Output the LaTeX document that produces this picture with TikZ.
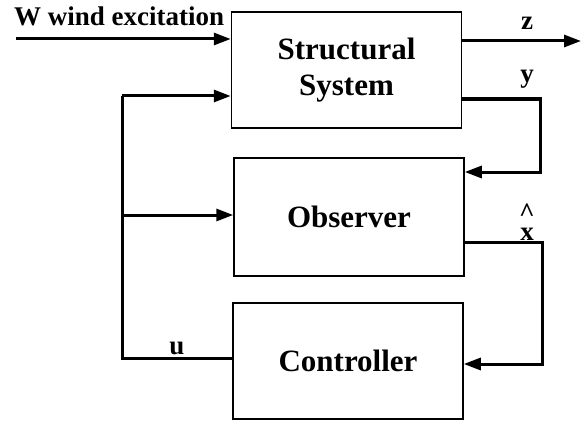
\documentclass[tikz,border=0pt]{standalone}
\usepackage{fontspec}
\setmainfont{Liberation Serif}
\usetikzlibrary{arrows.meta}

\tikzset{
    block/.style={draw, line width=1.5pt, minimum width=230pt, minimum height=116pt,
        font=\fontsize{31}{36}\selectfont\bfseries, align=center},
    signal/.style={line width=3pt, -{Triangle[length=17pt,width=12pt]}},
    leitung/.style={line width=3pt},
    marke/.style={font=\fontsize{27}{28}\selectfont\bfseries, inner sep=0pt}
}

\begin{document}
\begin{tikzpicture}[x=1pt, y=-1pt]
    \useasboundingbox (0,0) rectangle (585,425);
    \path node[block] (SYS) at (346.5,70) {Structural\\System}
        node[block, minimum height=118pt] (OBS) at (349,217) {Observer}
        node[block] (CTRL) at (348,361) {Controller};
    % Ein- und Ausgaenge
    \path coordinate (W) at (16,39)
        coordinate (Z) at (581,41)
        coordinate (Y) at (540,99)
        coordinate (XH) at (542,242)
        coordinate (U) at (122,358)
        coordinate (U1) at (122,96)
        coordinate (U2) at (122,215);
    \draw[signal] (W) -- (W -| SYS.west);
    \draw[signal] (Z -| SYS.east) -- (Z);
    \draw[signal] (Y -| SYS.east) -- (Y) |- (OBS.east |- 0,172);
    \draw[signal] (XH -| OBS.east) -- (XH) |- (CTRL.east |- 0,364);
    \draw[leitung] (U -| CTRL.west) -- (U) -- (U1);
    \draw[signal] (U1) -- (U1 -| SYS.west);
    \draw[signal] (U2) -- (U2 -| OBS.west);
    % Beschriftungen
    \node[marke, anchor=base west] (LW) at (14,26) {W wind excitation};
    \node[marke, anchor=base] (LZ) at (527,30) {z};
    \node[marke, anchor=base] (LY) at (527,83) {y};
    \node[marke, anchor=base] (LU) at (177,354) {u};
    \node[marke, anchor=south, align=center, font=\fontsize{27}{19}\selectfont\bfseries] (LX) at (527,241) {\^{}\\x};
\end{tikzpicture}
\end{document}
